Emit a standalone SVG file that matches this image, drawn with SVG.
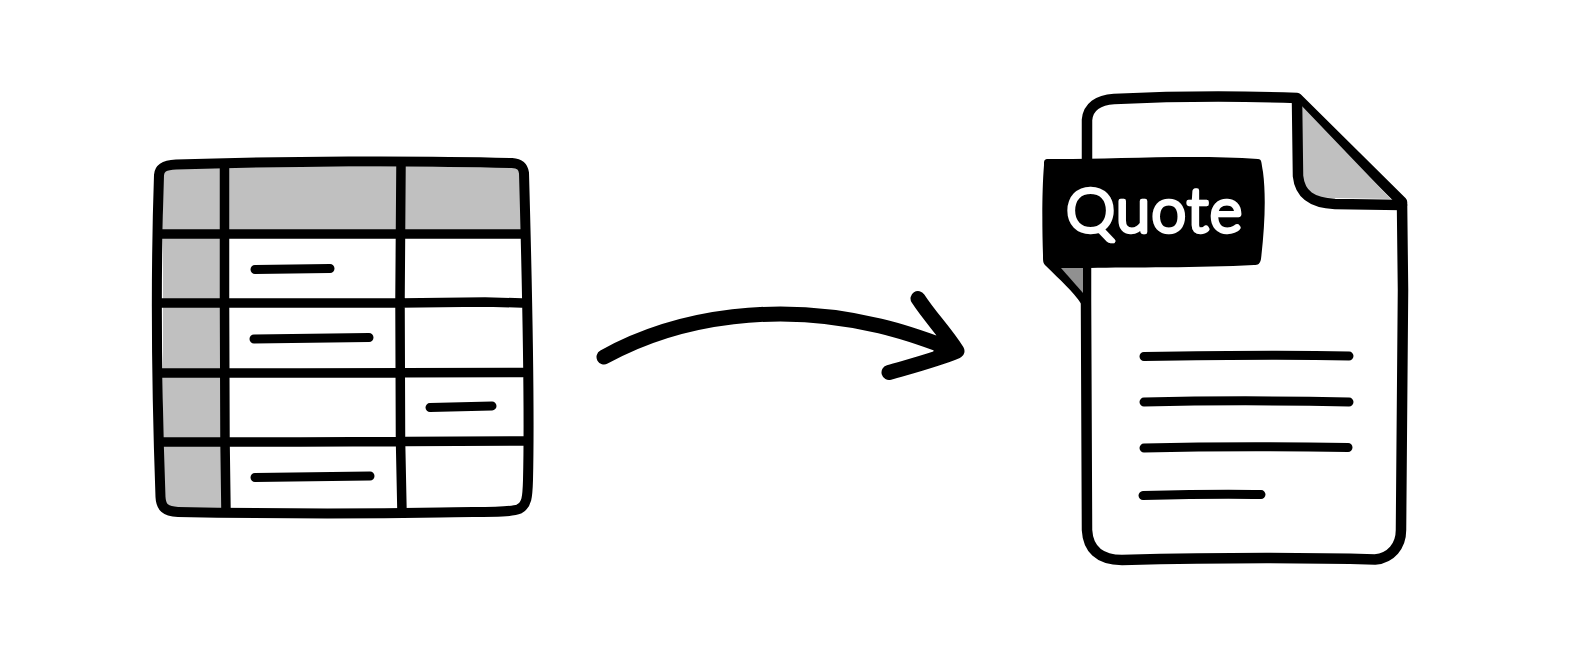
<svg xmlns="http://www.w3.org/2000/svg" width="1584" height="672" viewBox="0 0 1584 672">
<style>
.l{fill:none;stroke:#000;stroke-linecap:round;stroke-linejoin:round}
.g{fill:#c0c0c0}
</style>
<rect width="1584" height="672" fill="#fff"/>
<g id="table">
<path class="g" d="M163 167H522V230H222V510H163Z"/>
<path class="l" stroke-width="10" d="M176 164.500C280 161 420 160.500 512 163C520 163.500 523 166 524 173C527 280 530 400 528 480C527.500 497 527 505 519 509C510 513 480 511.500 440 512.500C350 514 260 513.500 178 512C165 511.500 161 507 160.500 497C157 400 155 290 159 175C159.500 168 164 165 176 164.500Z"/>
<path class="l" stroke-width="9.500" d="M224.500 167L224.500 300L225 440L226 512M401 165L400 300L400.500 440L402 512M161 234L300 234L522 234M160 303L400 303L485 302L522 303M160 373L300 373L523 372.500M161 442L300 442L524 441"/>
<path class="l" stroke-width="9" d="M255 269.500L330 268.500M254 339L369 337.500M430 407.500L492 406M255 477.500L370 476"/>
</g>
<g id="connector">
<path class="l" stroke-width="15" d="M604 357C680 315 780 302 880 326C910 333 930 341 954 350M918 298.500C930 317 945 332 957 351C935 360 915 365 889 372.500"/>
<path d="M936 338L958 348L956 356L933 354Z" fill="#000"/>
</g>
<g id="document">
<path d="M1087 160V120C1088 107 1098 100 1114 99C1180 96 1240 96 1297 98L1402 202L1403 290L1401 530C1401 546 1391 558 1375 559.500C1290 557 1200 558 1122 560C1098 560 1088 548 1087 530C1087 440 1086 370 1086 300V268Z" fill="#fff" stroke="#000" stroke-width="10.500" stroke-linejoin="round"/>
<path class="g" d="M1300 104L1302 175C1304 193 1314 198 1335 198L1391 199Z"/>
<path class="l" stroke-width="10.500" d="M1297 100L1298 176C1300 195 1312 203 1335 204L1402 205"/>
<path d="M1044 159C1100 160 1190 154 1258 159C1262 159 1261 162 1263 172C1266 195 1265 225 1261 259C1260 264 1258 265 1254 265C1200 268 1130 267 1090 268V302L1082 305C1072 290 1060 280 1046 266C1043 263 1043 262 1043 255C1042 225 1042 190 1044 165C1044 161 1044 159 1048 159Z" fill="#000"/>
<path d="M1061 268H1083V293Z" fill="#909090"/>
<text id="label" x="1066" y="232" font-family="Lato,sans-serif" font-weight="300" font-size="62" fill="#fff" stroke="#fff" stroke-width="4.500" stroke-linejoin="round" textLength="176" lengthAdjust="spacing">Quote</text>
<path class="l" stroke-width="9" d="M1144 356.500C1210 355.500 1280 354.500 1349 356M1144 402C1210 400.500 1280 400.500 1349 402M1144 448C1210 446.500 1280 446.500 1348 447.500M1143 495.500C1180 494.500 1220 493.500 1261 494.500"/>
</g>
</svg>
